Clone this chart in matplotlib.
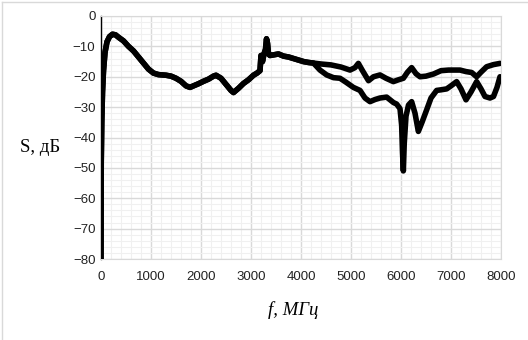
import matplotlib
matplotlib.use('Agg')
import matplotlib.pyplot as plt
from matplotlib.lines import Line2D
from matplotlib.ticker import MultipleLocator

# shared start of both curves (f in MHz, S in dB)
f_common = [0, 5, 15, 30, 50, 80, 120, 170, 230, 290, 350, 450, 550, 650, 750, 850,
            950, 1050, 1150, 1300, 1400, 1500, 1600, 1700, 1780, 1850, 1950, 2050,
            2150, 2250, 2300, 2400, 2500, 2600, 2650, 2750, 2850, 2950, 3050, 3120,
            3180, 3200, 3230, 3260, 3290, 3310, 3330, 3350, 3380, 3450, 3550, 3650,
            3750, 3850, 3950, 4050, 4150, 4250]
s_common = [-80, -48, -35, -25, -18, -12, -8.5, -6.8, -6, -6.2, -7, -8.2, -10, -11.5,
            -13.5, -15.5, -17.5, -18.8, -19.3, -19.5, -19.8, -20.5, -21.5, -23, -23.5,
            -23, -22.3, -21.5, -20.8, -19.8, -19.5, -20.5, -22.5, -24.5, -25.2, -23.8,
            -22.2, -21, -19.5, -18.8, -18, -13, -15, -12.5, -11, -7.5, -9, -12.5, -13,
            -12.8, -12.5, -13.2, -13.5, -14, -14.5, -15, -15.3, -15.5]

f_upper = [4400, 4600, 4800, 4980, 5080, 5147, 5230, 5350, 5450, 5580, 5700, 5847,
           5950, 6047, 6130, 6213, 6300, 6380, 6500, 6650, 6800, 6950, 7180, 7300,
           7413, 7513, 7600, 7713, 7850, 7980]
s_upper = [-15.8, -16.1, -16.8, -17.8, -17, -15.6, -18, -21.3, -20, -19.4, -20.5,
           -21.6, -21, -20.5, -18.5, -17, -19, -20, -19.8, -19.1, -18, -17.8, -17.8,
           -18.3, -18.6, -20, -18.5, -16.7, -16, -15.6]

f_lower = [4380, 4513, 4650, 4780, 4900, 5047, 5180, 5280, 5380, 5480, 5580, 5713,
           5850, 5913, 5980, 6013, 6030, 6047, 6065, 6100, 6150, 6213, 6280, 6347,
           6420, 6513, 6600, 6713, 6800, 6913, 7000, 7113, 7200, 7300, 7400, 7513,
           7600, 7680, 7780, 7850, 7920, 7980]
s_lower = [-17.8, -19.4, -20.3, -20.5, -21.8, -23.5, -24.5, -27, -28.2, -27.5, -27,
           -26.7, -28.5, -29, -30.5, -36, -45, -51, -42, -33, -29.3, -28.2, -32, -38,
           -35, -30.9, -27, -24.5, -24.3, -24, -23, -21.6, -24, -27.6, -25, -21.6,
           -24, -26.5, -27, -26.5, -23.5, -20]

x_ticks = [0, 1000, 2000, 3000, 4000, 5000, 6000, 7000, 8000]
y_ticks = [0, -10, -20, -30, -40, -50, -60, -70, -80]

fig = plt.figure(figsize=(5.28, 3.40), dpi=100)
ax = fig.add_axes([101 / 528, 1 - 259 / 340, 400 / 528, 243 / 340])

ax.plot(f_common + f_upper, s_common + s_upper, '-', color='black', lw=4.0,
        solid_joinstyle='round', solid_capstyle='round', zorder=3)
ax.plot(f_common + f_lower, s_common + s_lower, '-', color='black', lw=4.0,
        solid_joinstyle='round', solid_capstyle='round', zorder=3)

ax.set_xlim(0, 8000)
ax.set_ylim(-80, 0)
ax.set_xticks(x_ticks)
ax.set_yticks(y_ticks)
ax.xaxis.set_minor_locator(MultipleLocator(200))
ax.yaxis.set_minor_locator(MultipleLocator(2))
ax.grid(which='major', color='#d9d9d9', lw=1.0)
ax.grid(which='minor', color='#f0f0f0', lw=0.8)
ax.set_axisbelow(True)
ax.tick_params(which='both', length=0)
ax.tick_params(axis='x', pad=9)
ax.tick_params(axis='y', pad=4)
for lab in ax.get_xticklabels() + ax.get_yticklabels():
    lab.set_fontfamily('Liberation Sans')
    lab.set_fontsize(9.5)
    lab.set_color('#222222')

for side in ['top', 'right', 'bottom']:
    ax.spines[side].set_color('#d9d9d9')
ax.spines['left'].set_color('black')
ax.spines['left'].set_linewidth(1.0)

fig.text(40 / 528, 1 - 147 / 340, 'S, дБ', family='Liberation Serif', fontsize=13.5,
         ha='center', va='center')
fig.text(293 / 528, 1 - 310 / 340, 'f, МГц', family='Liberation Serif', style='italic',
         fontsize=13.5, ha='center', va='center')

# light chart border
fig.add_artist(Line2D([1.5 / 528, 1.5 / 528], [0, 1 - 1.5 / 340], transform=fig.transFigure,
                      color='#d9d9d9', lw=1))
fig.add_artist(Line2D([1.5 / 528, 1], [1 - 1.5 / 340, 1 - 1.5 / 340], transform=fig.transFigure,
                      color='#d9d9d9', lw=1))

fig.savefig('out.png', dpi=100)
